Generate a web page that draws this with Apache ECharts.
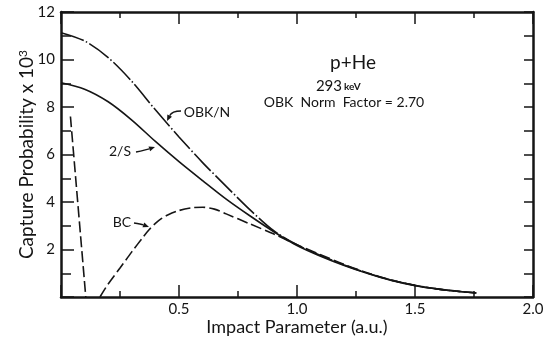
<!DOCTYPE html>
<html>
<head>
<meta charset="utf-8">
<script src="https://cdn.jsdelivr.net/npm/echarts@6/dist/echarts.min.js"></script>
<style>
  html, body { margin: 0; padding: 0; background: #fff; }
  #capture-chart { width: 551px; height: 347px; }
</style>
</head>
<body>
<div id="capture-chart"></div>
<script>
// impact parameter (a.u.) vs capture probability x 10^3
const obkX = [0, 0.1, 0.2, 0.3, 0.4, 0.5, 0.6, 0.7, 0.8, 0.9, 1.0, 1.1, 1.2, 1.3, 1.4, 1.5, 1.6, 1.7, 1.76]
const obkY = [11.13, 10.78, 10.08, 9.08, 7.88, 6.74, 5.66, 4.66, 3.68, 2.8, 2.2, 1.75, 1.35, 1.0, 0.71, 0.49, 0.33, 0.22, 0.17]

const twoSX = [0, 0.1, 0.2, 0.3, 0.4, 0.5, 0.6, 0.7, 0.8, 0.9, 1.0, 1.1, 1.2, 1.3, 1.4, 1.5, 1.6, 1.7, 1.76]
const twoSY = [9.02, 8.75, 8.22, 7.45, 6.55, 5.7, 4.9, 4.12, 3.42, 2.76, 2.17, 1.72, 1.33, 0.99, 0.7, 0.48, 0.33, 0.22, 0.17]

// BC drops to zero near 0.1 and picks up again at 0.165 (gap = null)
const bcX = [0.04, 0.105, 0.135, 0.165, 0.2, 0.25, 0.3, 0.35, 0.375, 0.4, 0.425, 0.45, 0.5, 0.55, 0.6, 0.65, 0.7, 0.8, 0.9, 1.0, 1.1, 1.2, 1.3, 1.4, 1.5, 1.6, 1.7, 1.76]
const bcY = [7.6, 0, null, 0, 0.55, 1.22, 1.9, 2.55, 2.85, 3.1, 3.3, 3.44, 3.64, 3.75, 3.78, 3.7, 3.5, 3.08, 2.66, 2.2, 1.78, 1.37, 1.01, 0.71, 0.49, 0.33, 0.22, 0.17]

const xTickLabels = ['0.5', '1.0', '1.5', '2.0']
const yTickLabels = ['2', '4', '6', '8', '10', '12']

const ink = '#151515'
const font = 'Lato'

function zip(xs, ys){
  return xs.map((x, i) => [x, ys[i] === null ? '-' : ys[i]])
}

// little arrow: shaft from (x1,y1) bending via (cx,cy) to the head at (x2,y2)
function arrow(x1, y1, cx, cy, x2, y2){
  const ang = Math.atan2(y2 - cy, x2 - cx)
  const hl = 6, hw = 2.6
  const bx = x2 - hl * Math.cos(ang), by = y2 - hl * Math.sin(ang)
  const px = -Math.sin(ang) * hw, py = Math.cos(ang) * hw
  return {
    type: 'group',
    children: [
      {
        type: 'bezierCurve',
        shape: {x1: x1, y1: y1, cpx1: cx, cpy1: cy, x2: bx, y2: by},
        style: {stroke: ink, lineWidth: 1.3, fill: null}
      },
      {
        type: 'polygon',
        shape: {points: [[x2, y2], [bx + px, by + py], [bx - px, by - py]]},
        style: {fill: ink}
      }
    ]
  }
}

function label(text, x, y, size, extra){
  return {
    type: 'text',
    x: x, y: y,
    style: Object.assign({
      text: text,
      fill: ink,
      font: size + 'px ' + font,
      align: 'center',
      verticalAlign: 'middle'
    }, extra || {})
  }
}

const axisLine = {show: true, onZero: false, lineStyle: {color: ink, width: 2.5}}
const tickStyle = {color: ink, width: 1.5}

const options = {
  animation: false,
  backgroundColor: '#fff',
  grid: {left: 61, right: 18, top: 12, bottom: 50, containLabel: false},
  xAxis: [
    {
      type: 'value',
      min: 0, max: 2, interval: 0.5,
      position: 'bottom',
      axisLine: axisLine,
      axisTick: {inside: true, length: 12, lineStyle: tickStyle},
      minorTick: {show: true, splitNumber: 2, length: 6, lineStyle: tickStyle},
      splitLine: {show: false},
      axisLabel: {
        color: ink, fontSize: 15, fontFamily: font, margin: 5,
        formatter: v => v === 0 ? '' : xTickLabels[Math.round(v / 0.5) - 1]
      },
      name: 'Impact Parameter (a.u.)',
      nameLocation: 'middle',
      nameGap: 21,
      nameMoveOverlap: false,
      nameTextStyle: {color: ink, fontSize: 18, fontFamily: font}
    },
    {
      type: 'value',
      min: 0, max: 2, interval: 0.5,
      position: 'top',
      axisLine: axisLine,
      axisTick: {inside: true, length: 12, lineStyle: tickStyle},
      minorTick: {show: true, splitNumber: 2, length: 6, lineStyle: tickStyle},
      splitLine: {show: false},
      axisLabel: {show: false}
    }
  ],
  yAxis: [
    {
      type: 'value',
      min: 0, max: 12, interval: 2,
      position: 'left',
      axisLine: axisLine,
      axisTick: {inside: true, length: 13, lineStyle: tickStyle},
      minorTick: {show: true, splitNumber: 2, length: 10, lineStyle: tickStyle},
      splitLine: {show: false},
      axisLabel: {
        color: ink, fontSize: 15, fontFamily: font, margin: 6,
        formatter: v => v === 0 ? '' : yTickLabels[Math.round(v / 2) - 1]
      },
      name: 'Capture Probability x 10{s|3}',
      nameLocation: 'middle',
      nameGap: 24,
      nameMoveOverlap: false,
      nameTextStyle: {
        color: ink, fontSize: 19, fontFamily: font,
        rich: {s: {fontSize: 12, fontFamily: font, color: ink, verticalAlign: 'top', padding: [0, 0, 8, 0]}}
      }
    },
    {
      type: 'value',
      min: 0, max: 12, interval: 1,
      position: 'right',
      axisLine: axisLine,
      axisTick: {inside: true, length: 9, lineStyle: tickStyle},
      splitLine: {show: false},
      axisLabel: {show: false}
    }
  ],
  series: [
    {
      name: 'OBK/N',
      type: 'line',
      data: zip(obkX, obkY),
      showSymbol: false,
      smooth: 0.3,
      lineStyle: {color: ink, width: 1.6, type: [24, 2.5, 1.5, 2.5]}
    },
    {
      name: '2/S',
      type: 'line',
      data: zip(twoSX, twoSY),
      showSymbol: false,
      smooth: 0.3,
      lineStyle: {color: ink, width: 1.6, type: 'solid'}
    },
    {
      name: 'BC',
      type: 'line',
      data: zip(bcX, bcY),
      showSymbol: false,
      connectNulls: false,
      smooth: 0.3,
      lineStyle: {color: ink, width: 1.6, type: [11, 4]}
    }
  ],
  graphic: [
    label('p+He', 353, 63, 19),
    label('293', 342, 86, 15, {align: 'right'}),
    label('keV', 344, 87, 10, {align: 'left', font: 'bold 10px ' + font}),
    label('OBK  Norm  Factor = 2.70', 344, 102, 14),
    label('OBK/N', 207, 112, 14),
    arrow(181, 111, 172, 111, 167, 121),
    label('2/S', 120, 151, 14),
    arrow(136, 152, 146, 150, 155, 147),
    label('BC', 122, 222, 14),
    arrow(134, 223, 141, 224, 149, 227)
  ]
}

const myChart = echarts.init(document.getElementById('capture-chart'), null, {renderer: 'canvas'})
myChart.setOption(options)
</script>
</body>
</html>
